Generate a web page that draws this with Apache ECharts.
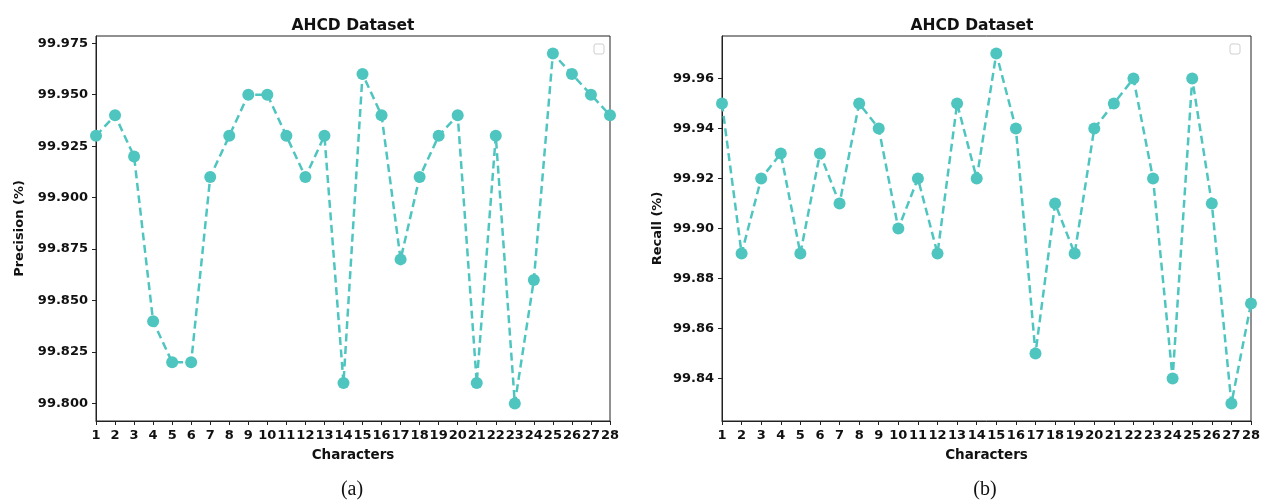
<!DOCTYPE html>
<html>
<head>
<meta charset="utf-8">
<script src="https://cdn.jsdelivr.net/npm/echarts@6/dist/echarts.min.js"></script>
<style>
html,body{margin:0;padding:0;background:#fff;}
#c{width:1267px;height:502px;}
</style>
</head>
<body>
<div id="c"></div>
<script>
// ---- data ----
const characters = [1,2,3,4,5,6,7,8,9,10,11,12,13,14,15,16,17,18,19,20,21,22,23,24,25,26,27,28];
const precision = [99.93,99.94,99.92,99.84,99.82,99.82,99.91,99.93,99.95,99.95,99.93,99.91,99.93,99.81,99.96,99.94,99.87,99.91,99.93,99.94,99.81,99.93,99.80,99.86,99.97,99.96,99.95,99.94];
const recall = [99.95,99.89,99.92,99.93,99.89,99.93,99.91,99.95,99.94,99.90,99.92,99.89,99.95,99.92,99.97,99.94,99.85,99.91,99.89,99.94,99.95,99.96,99.92,99.84,99.96,99.91,99.83,99.87];
const precisionTicks = [99.800,99.825,99.850,99.875,99.900,99.925,99.950,99.975];
const recallTicks = [99.84,99.86,99.88,99.90,99.92,99.94,99.96];
const titleText = 'AHCD Dataset';
const xName = 'Characters';
const yNames = ['Precision (%)','Recall (%)'];
const captions = ['(a)','(b)'];

const color = '#4fc5c0';
const font = 'DejaVu Sans';
const grids = [
  {left:96, top:36, width:514, height:385},
  {left:722, top:36, width:529, height:385}
];

function xAxis(i){
  return {
    type:'value', gridIndex:i, min:1, max:28, interval:1,
    name:xName, nameLocation:'middle', nameGap:27,
    nameTextStyle:{fontFamily:font,fontWeight:'bold',fontSize:13.5,color:'#111'},
    axisLine:{show:true,lineStyle:{color:'#222',width:1}},
    axisTick:{show:true,length:4,inside:false,lineStyle:{color:'#222'}},
    axisLabel:{fontFamily:font,fontWeight:'bold',fontSize:13,color:'#111',margin:8,hideOverlap:false},
    splitLine:{show:false}
  };
}
function yAxis(i,ticks,mn,mx,dec,gap){
  return {
    type:'value', gridIndex:i, min:mn, max:mx,
    name:yNames[i], nameLocation:'middle', nameGap:gap,
    nameTextStyle:{fontFamily:font,fontWeight:'bold',fontSize:13,color:'#111'},
    axisLine:{show:true,lineStyle:{color:'#222',width:1}},
    axisTick:{show:true,length:4,customValues:ticks,lineStyle:{color:'#222'}},
    axisLabel:{fontFamily:font,fontWeight:'bold',fontSize:13,color:'#111',margin:8,
      customValues:ticks, formatter:v=>Number(v).toFixed(dec)},
    splitLine:{show:false}
  };
}
function series(i,vals){
  return {
    type:'line', xAxisIndex:i, yAxisIndex:i,
    data:characters.map((c,k)=>[c,vals[k]]),
    symbol:'circle', symbolSize:12, showSymbol:true,
    itemStyle:{color:color},
    lineStyle:{color:color,width:2.5,type:[8,4.5]},
    clip:true, animation:false
  };
}

const chart = echarts.init(document.getElementById('c'),null,{renderer:'canvas'});
chart.setOption({
  animation:false,
  backgroundColor:'#fff',
  title:[
    {text:titleText,left:348,top:13,textAlign:'center',textStyle:{fontFamily:font,fontWeight:'bold',fontSize:15.5,color:'#111'}},
    {text:titleText,left:967,top:13,textAlign:'center',textStyle:{fontFamily:font,fontWeight:'bold',fontSize:15.5,color:'#111'}},
    {text:captions[0],left:347,top:475,textAlign:'center',textStyle:{fontFamily:'Liberation Serif',fontWeight:'normal',fontSize:20,color:'#111'}},
    {text:captions[1],left:980,top:475,textAlign:'center',textStyle:{fontFamily:'Liberation Serif',fontWeight:'normal',fontSize:20,color:'#111'}}
  ],
  grid:grids.map(g=>Object.assign({show:true,borderColor:'#222',borderWidth:1,backgroundColor:'transparent',containLabel:false},g)),
  xAxis:[xAxis(0),xAxis(1)],
  yAxis:[yAxis(0,precisionTicks,99.7915,99.9785,3,70),yAxis(1,recallTicks,99.823,99.977,2,58)],
  series:[series(0,precision),series(1,recall)],
  graphic:[
    {type:'rect',shape:{x:594,y:44,width:10,height:10,r:2},style:{fill:'#fff',stroke:'#cfcfcf',lineWidth:1}},
    {type:'rect',shape:{x:1230,y:44,width:10,height:10,r:2},style:{fill:'#fff',stroke:'#cfcfcf',lineWidth:1}}
  ]
});
</script>
</body>
</html>
